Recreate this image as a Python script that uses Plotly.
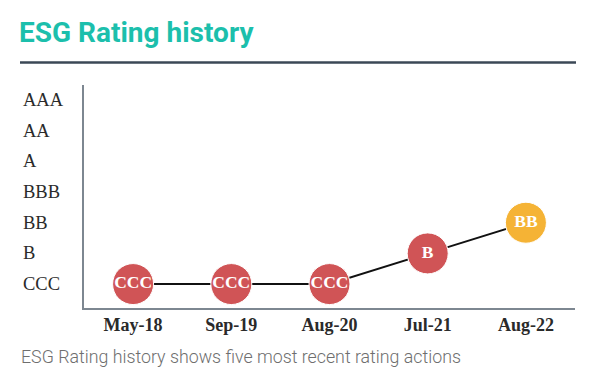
import plotly.graph_objects as go

dates = ["May-18", "Sep-19", "Aug-20", "Jul-21", "Aug-22"]
ratings = ["CCC", "CCC", "CCC", "B", "BB"]
rating_scale = ["CCC", "B", "BB", "BBB", "A", "AA", "AAA"]
marker_colors = ["#d05456", "#d05456", "#d05456", "#d05456", "#f5b335"]

title_text = "ESG Rating history"
caption_text = "ESG Rating history shows five most recent rating actions"

# page is rendered with the default 8px body margin
OFF = 8
W, H = 600 - OFF, 378 - OFF
# page-pixel layout of plot area
PL, PR, PT, PB = 84, 575, 85, 308
ML, MR, MT, MB = PL - OFF, W - (PR - OFF), PT - OFF, H - (PB - OFF)
pw = W - ML - MR
ph = H - MT - MB

def px_x(px):
    return (px - OFF - ML) / pw

def px_y(py):
    return (H - MB - (py - OFF)) / ph

xs = list(range(len(dates)))
ys = [rating_scale.index(r) for r in ratings]

fig = go.Figure()
fig.add_trace(go.Scatter(
    x=xs, y=ys, mode="lines",
    line=dict(color="#111111", width=2),
    hoverinfo="skip", showlegend=False,
))
fig.add_trace(go.Scatter(
    x=xs, y=ys, mode="markers+text",
    marker=dict(size=41, color=marker_colors, line=dict(color="white", width=1)),
    text=ratings, textposition="middle center",
    textfont=dict(family="Liberation Serif", size=17.5, color="white", weight="bold"),
    showlegend=False,
))

annotations = []
for i, r in enumerate(rating_scale):
    annotations.append(dict(
        x=px_x(21), xref="paper", y=i, yref="y",
        text=r, showarrow=False, xanchor="left", yanchor="middle",
        font=dict(family="Liberation Serif", size=18.5, color="#2a2a2a"),
    ))
annotations.append(dict(
    x=px_x(19), xref="paper", y=px_y(356), yref="paper",
    text=caption_text, showarrow=False, xanchor="left", yanchor="middle",
    font=dict(family="Roboto", size=17.8, color="#6e6e6e", weight=300),
))

fig.update_layout(
    width=W, height=H,
    margin=dict(l=ML, r=MR, t=MT, b=MB),
    paper_bgcolor="white", plot_bgcolor="white",
    title=dict(text=title_text, x=(19 - OFF) / W, xanchor="left", xref="container",
               y=1 - (32 - OFF) / H, yanchor="middle", yref="container",
               font=dict(family="Roboto", size=28, color="#1cbfac", weight="bold")),
    annotations=annotations,
    shapes=[dict(type="line", xref="paper", yref="paper",
                 x0=px_x(20), x1=px_x(576), y0=px_y(62.5), y1=px_y(62.5),
                 line=dict(color="#3b4856", width=2.5))],
    xaxis=dict(
        range=[-0.5, 4.5], tickmode="array", tickvals=xs, ticktext=dates,
        showgrid=False, zeroline=False, showline=True, linecolor="#7d8791", linewidth=1.5,
        ticks="", tickfont=dict(family="Liberation Serif", size=18, color="#2a2a2a", weight="bold"),
        fixedrange=True,
    ),
    yaxis=dict(
        range=[-0.78, 6.49], showticklabels=False, showgrid=False, zeroline=False,
        showline=True, linecolor="#7d8791", linewidth=1.5, ticks="", fixedrange=True,
    ),
)

fig.write_html("out.html")
